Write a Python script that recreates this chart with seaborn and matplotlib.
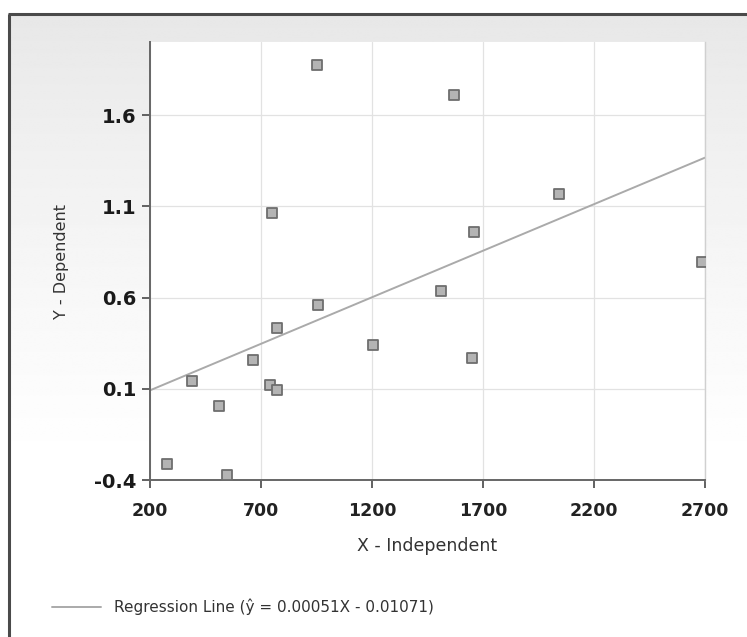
import matplotlib
matplotlib.use("Agg")
import matplotlib.pyplot as plt
import numpy as np
import pandas as pd
import seaborn as sns

sns.set_theme(style="white")
plt.rcParams["font.family"] = ["DejaVu Sans"]

# values
x_values = [951, 1571, 751, 2043, 1661, 2685, 1509, 958, 772,
            1206, 1652, 665, 388, 742, 773, 512, 275, 547]
y_values = [1.875, 1.707, 1.065, 1.168, 0.961, 0.797, 0.637, 0.559, 0.433,
            0.341, 0.266, 0.257, 0.144, 0.120, 0.091, 0.008, -0.313, -0.373]
slope = 0.00051
intercept = -0.01071
x_ticks = [200, 700, 1200, 1700, 2200, 2700]
y_ticks = [-0.4, 0.1, 0.6, 1.1, 1.6]
legend_label = "Regression Line (\u0177 = 0.00051X - 0.01071)"

df = pd.DataFrame({"x": x_values, "y": y_values})
line_x = np.array([x_ticks[0], x_ticks[-1]])
line_df = pd.DataFrame({"x": line_x, "y": slope * line_x + intercept})

W, H = 747, 637
fig = plt.figure(figsize=(W / 100, H / 100), dpi=100)
fig.patch.set_facecolor("white")

# panel background with soft vertical gradient and dark frame
bg = fig.add_axes([0, 0, 1, 1])
bg.set_xlim(0, W)
bg.set_ylim(H, 0)
bg.axis("off")
grad = np.clip(0.905 + 0.095 * np.linspace(0, 1, 300) ** 0.8 * 1.3, 0, 1)
img = np.repeat(grad[:, None], 2, axis=1)
bg.imshow(img, cmap="gray", vmin=0, vmax=1, aspect="auto",
          extent=(9, W, H, 15), interpolation="bilinear")
bg.plot([9, 9], [14, H], color="#4a4a4a", lw=2.2, solid_capstyle="butt")
bg.plot([8, W], [14, 14], color="#4a4a4a", lw=2.2, solid_capstyle="butt")

ax = fig.add_axes([150 / W, 1 - 480 / H, 555 / W, 438 / H])
ax.set_facecolor("white")
sns.lineplot(data=line_df, x="x", y="y", ax=ax, color="#aaaaaa", lw=1.4,
             label=legend_label, zorder=2)
sns.scatterplot(data=df, x="x", y="y", ax=ax, marker="s", s=48,
                color="#b4b4b4", edgecolor="#6e6e6e", linewidth=1.3,
                legend=False, zorder=3)
handles, labels = ax.get_legend_handles_labels()
if ax.get_legend() is not None:
    ax.get_legend().remove()

ax.set_xlim(200, 2700)
ax.set_ylim(-0.4, 2.0)
ax.set_xticks(x_ticks)
ax.set_yticks(y_ticks)
ax.set_xticklabels([str(v) for v in x_ticks], fontsize=12.5,
                   fontweight="semibold", color="#222222")
ax.set_yticklabels([f"{v:.1f}" for v in y_ticks], fontsize=14,
                   fontweight="bold", color="#1a1a1a")
ax.grid(True, color="#e2e2e2", lw=0.9)
ax.tick_params(axis="both", which="both", length=6, width=1.3,
               color="#555555", direction="out", left=True, bottom=True)
ax.tick_params(axis="y", pad=4)
ax.tick_params(axis="x", pad=10)
for side in ["left", "bottom"]:
    ax.spines[side].set_color("#666666")
    ax.spines[side].set_linewidth(1.4)
ax.spines["right"].set_color("#d0d0d0")
ax.spines["right"].set_linewidth(1)
ax.spines["top"].set_visible(False)

ax.set_xlabel("X - Independent", fontsize=12.5, color="#333333", labelpad=12)
ax.set_ylabel("Y - Dependent", fontsize=11.5, color="#333333", labelpad=18)

fig.legend(handles, labels, loc="center left", bbox_to_anchor=(38 / W, 1 - 607 / H),
           frameon=False, fontsize=11, handlelength=3.2, handletextpad=0.9,
           labelcolor="#333333")

fig.savefig("out.png", dpi=100)
